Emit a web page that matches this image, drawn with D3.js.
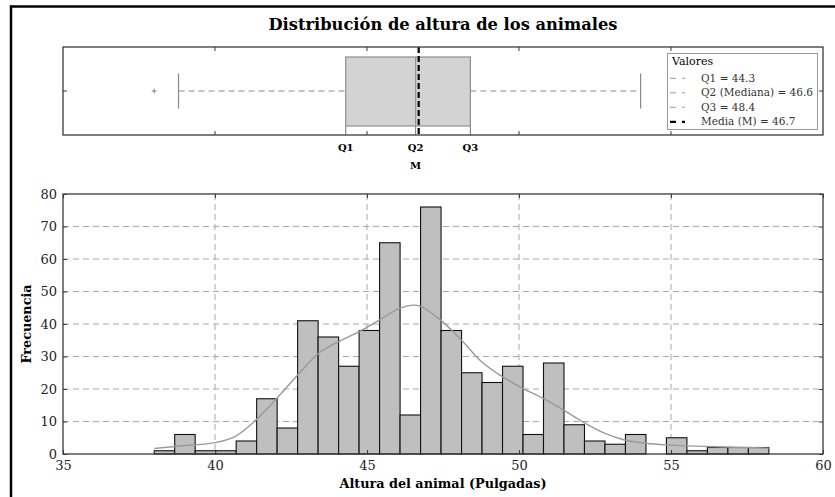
<!DOCTYPE html>
<html>
<head>
<meta charset="utf-8">
<script src="https://cdn.jsdelivr.net/npm/d3@7"></script>
<style>
  html, body { margin: 0; padding: 0; background: #fff; }
  svg { display: block; font-family: "DejaVu Serif", serif; }
</style>
</head>
<body>
<svg id="chart" width="835" height="497"></svg>
<script>
// ---- data ----
const binStart = 38.0;
const binEnd = 58.22;
const counts = [1, 6, 1, 1, 4, 17, 8, 41, 36, 27, 38, 65, 12, 76, 38, 25, 22, 27, 6, 28, 9, 4, 3, 6, 0, 5, 1, 2, 2, 2];

// smoothed density curve, scaled to counts
const kdeX = [38.0, 39.0, 40.0, 40.7, 41.35, 42.04, 42.72, 43.41, 44.07, 44.73, 45.4, 46.07, 46.5, 46.75, 47.42, 48.11, 48.77, 49.45, 50.12, 50.8, 51.47, 52.15, 52.81, 53.47, 54.17, 54.83, 56.17, 58.22];
const kdeY = [1.7, 2.6, 3.5, 5.6, 10.5, 17.2, 24.3, 31.0, 34.6, 37.6, 41.2, 44.8, 45.8, 45.5, 41.2, 35.0, 28.4, 23.8, 20.2, 17.1, 13.5, 9.6, 6.4, 4.3, 3.3, 2.8, 2.3, 1.8];

// box plot summary
const q1 = 44.3, q2 = 46.6, q3 = 48.4, mean = 46.7;
const whiskerLow = 38.8, whiskerHigh = 54.0;
const outliers = [38.0];

const xTicks = [35, 40, 45, 50, 55, 60];
const yTicks = [0, 10, 20, 30, 40, 50, 60, 70, 80];

const legendTitle = "Valores";
const legendItems = [
  { label: "Q1 = " + q1, color: "#9a9a9a", width: 1, dash: "6,6" },
  { label: "Q2 (Mediana) = " + q2, color: "#9a9a9a", width: 1, dash: "6,6" },
  { label: "Q3 = " + q3, color: "#9a9a9a", width: 1, dash: "6,6" },
  { label: "Media (M) = " + mean, color: "#000", width: 2.2, dash: "6,6" }
];

// ---- layout ----
const svg = d3.select("#chart");
const spine = "#3a3a3a";
const box = { left: 63, right: 823, top: 47, bottom: 135 };
const hist = { left: 63, right: 823, top: 194, bottom: 454 };

// figure frame
svg.append("line").attr("x1", 11).attr("x2", 835).attr("y1", 6.5).attr("y2", 6.5)
  .attr("stroke", "#000").attr("stroke-width", 2.5);
svg.append("line").attr("x1", 11).attr("x2", 11).attr("y1", 5.3).attr("y2", 497)
  .attr("stroke", "#000").attr("stroke-width", 2.5);

// title
svg.append("text").attr("x", (hist.left + hist.right) / 2).attr("y", 29.5)
  .attr("text-anchor", "middle").attr("font-size", 16.3).attr("font-weight", "bold")
  .text("Distribución de altura de los animales");

// ---- box plot panel ----
const xb = d3.scaleLinear().domain([35, 60]).range([box.left, box.right]);
const bMid = (box.top + box.bottom) / 2;
const gB = svg.append("g");

gB.append("rect").attr("x", box.left).attr("y", box.top)
  .attr("width", box.right - box.left).attr("height", box.bottom - box.top).attr("fill", "#fff");

// ticks (inward) at top and bottom
[40, 45, 50, 55].forEach(v => {
  gB.append("line").attr("x1", xb(v)).attr("x2", xb(v)).attr("y1", box.top).attr("y2", box.top + 4)
    .attr("stroke", spine).attr("stroke-width", 1);
  gB.append("line").attr("x1", xb(v)).attr("x2", xb(v)).attr("y1", box.bottom).attr("y2", box.bottom - 4)
    .attr("stroke", spine).attr("stroke-width", 1);
});
// y tick at centre, both sides
gB.append("line").attr("x1", box.left).attr("x2", box.left + 4).attr("y1", bMid).attr("y2", bMid).attr("stroke", spine);
gB.append("line").attr("x1", box.right).attr("x2", box.right - 4).attr("y1", bMid).attr("y2", bMid).attr("stroke", spine);

// quartile ticks at the bottom
[q1, q2, q3].forEach(v => {
  gB.append("line").attr("x1", xb(v)).attr("x2", xb(v)).attr("y1", box.bottom).attr("y2", box.bottom - 9)
    .attr("stroke", "#777").attr("stroke-width", 1);
});

const boxTop = box.top + 10, boxBot = box.bottom - 9;
const capHalf = 17.5;

// whiskers
gB.append("line").attr("x1", xb(whiskerLow)).attr("x2", xb(q1)).attr("y1", bMid).attr("y2", bMid)
  .attr("stroke", "#8a8a8a").attr("stroke-width", 1).attr("stroke-dasharray", "6,4");
gB.append("line").attr("x1", xb(q3)).attr("x2", xb(whiskerHigh)).attr("y1", bMid).attr("y2", bMid)
  .attr("stroke", "#8a8a8a").attr("stroke-width", 1).attr("stroke-dasharray", "6,4");
[whiskerLow, whiskerHigh].forEach(v => {
  gB.append("line").attr("x1", xb(v)).attr("x2", xb(v)).attr("y1", bMid - capHalf).attr("y2", bMid + capHalf)
    .attr("stroke", "#8a8a8a").attr("stroke-width", 1.2);
});

// box
gB.append("rect").attr("x", xb(q1)).attr("y", boxTop).attr("width", xb(q3) - xb(q1)).attr("height", boxBot - boxTop)
  .attr("fill", "#d3d3d3").attr("stroke", "#8f8f8f").attr("stroke-width", 1.2);
// median
gB.append("line").attr("x1", xb(q2)).attr("x2", xb(q2)).attr("y1", boxTop).attr("y2", boxBot)
  .attr("stroke", "#8f8f8f").attr("stroke-width", 1.2);

// outliers
outliers.forEach(v => {
  const cx = xb(v);
  gB.append("path").attr("d", `M${cx - 2.5},${bMid}H${cx + 2.5}M${cx},${bMid - 2.5}V${bMid + 2.5}`)
    .attr("stroke", "#777").attr("stroke-width", 0.9);
});

// mean line
gB.append("line").attr("x1", xb(mean)).attr("x2", xb(mean)).attr("y1", box.top).attr("y2", box.bottom)
  .attr("stroke", "#000").attr("stroke-width", 2.2).attr("stroke-dasharray", "6,3");

// frame
gB.append("rect").attr("x", box.left).attr("y", box.top)
  .attr("width", box.right - box.left).attr("height", box.bottom - box.top)
  .attr("fill", "none").attr("stroke", spine).attr("stroke-width", 1.3);

// quartile labels
[["Q1", q1], ["Q2", q2], ["Q3", q3]].forEach(([t, v]) => {
  gB.append("text").attr("x", xb(v)).attr("y", 151).attr("text-anchor", "middle")
    .attr("font-size", 10).attr("font-weight", "bold").text(t);
});
gB.append("text").attr("x", xb(q2)).attr("y", 168.5).attr("text-anchor", "middle")
  .attr("font-size", 10).attr("font-weight", "bold").text("M");

// legend
const lg = gB.append("g");
lg.append("rect").attr("x", 667.5).attr("y", 53.5).attr("width", 150).attr("height", 76)
  .attr("fill", "#fff").attr("stroke", "#9a9a9a").attr("stroke-width", 1);
lg.append("text").attr("x", 672).attr("y", 65).attr("font-size", 11).text(legendTitle);
legendItems.forEach((d, i) => {
  const cy = 78.3 + i * 14.5;
  lg.append("line").attr("x1", 670).attr("x2", 685).attr("y1", cy).attr("y2", cy)
    .attr("stroke", d.color).attr("stroke-width", d.width).attr("stroke-dasharray", d.dash);
  lg.append("text").attr("x", 701).attr("y", cy + 3.6).attr("font-size", 10.5).attr("fill", "#333").text(d.label);
});

// ---- histogram panel ----
const x = d3.scaleLinear().domain([35, 60]).range([hist.left, hist.right]);
const y = d3.scaleLinear().domain([0, 80]).range([hist.bottom, hist.top]);
const gH = svg.append("g");

// grid
gH.append("g").selectAll("line").data(yTicks.filter(v => v > 0 && v < 80)).join("line")
  .attr("x1", hist.left).attr("x2", hist.right).attr("y1", d => y(d)).attr("y2", d => y(d))
  .attr("stroke", "#a8a8a8").attr("stroke-width", 1).attr("stroke-dasharray", "6,4");
gH.append("g").selectAll("line").data(xTicks.filter(v => v > 35 && v < 60)).join("line")
  .attr("x1", d => x(d)).attr("x2", d => x(d)).attr("y1", hist.top).attr("y2", hist.bottom)
  .attr("stroke", "#a8a8a8").attr("stroke-width", 1).attr("stroke-dasharray", "6,4");

// bars
const binW = (binEnd - binStart) / counts.length;
const bins = counts.map((c, i) => ({ x0: binStart + i * binW, x1: binStart + (i + 1) * binW, c }));
gH.append("g").selectAll("rect").data(bins.filter(b => b.c > 0)).join("rect")
  .attr("x", d => x(d.x0)).attr("width", d => x(d.x1) - x(d.x0))
  .attr("y", d => y(d.c)).attr("height", d => y(0) - y(d.c))
  .attr("fill", "#bfbfbf").attr("stroke", "#111").attr("stroke-width", 1.1);

// density curve
const kde = kdeX.map((v, i) => [v, kdeY[i]]);
gH.append("path").datum(kde)
  .attr("d", d3.line().x(d => x(d[0])).y(d => y(d[1])).curve(d3.curveCatmullRom.alpha(0.5)))
  .attr("fill", "none").attr("stroke", "#9a9a9a").attr("stroke-width", 1.4);

// axes (inward ticks on all sides)
const ax = (g, axis) => g.call(axis).call(s => s.select(".domain").remove());
ax(gH.append("g").attr("transform", `translate(0,${hist.bottom})`),
  d3.axisBottom(x).tickValues(xTicks).tickSizeInner(-4).tickSizeOuter(0).tickPadding(7))
  .call(s => s.selectAll("text").attr("font-size", 13).attr("fill", "#222").attr("font-family", "DejaVu Serif"));
ax(gH.append("g").attr("transform", `translate(0,${hist.top})`),
  d3.axisTop(x).tickValues(xTicks).tickSizeInner(-4).tickSizeOuter(0).tickFormat(""));
ax(gH.append("g").attr("transform", `translate(${hist.left},0)`),
  d3.axisLeft(y).tickValues(yTicks).tickSizeInner(-4).tickSizeOuter(0).tickPadding(6))
  .call(s => s.selectAll("text").attr("font-size", 13).attr("fill", "#222").attr("font-family", "DejaVu Serif"));
ax(gH.append("g").attr("transform", `translate(${hist.right},0)`),
  d3.axisRight(y).tickValues(yTicks).tickSizeInner(-4).tickSizeOuter(0).tickFormat(""));
gH.selectAll(".tick line").attr("stroke", spine);

gH.append("rect").attr("x", hist.left).attr("y", hist.top)
  .attr("width", hist.right - hist.left).attr("height", hist.bottom - hist.top)
  .attr("fill", "none").attr("stroke", spine).attr("stroke-width", 1.3);

// axis titles
svg.append("text").attr("x", (hist.left + hist.right) / 2).attr("y", 488)
  .attr("text-anchor", "middle").attr("font-size", 12.8).attr("font-weight", "bold")
  .text("Altura del animal (Pulgadas)");
svg.append("text").attr("transform", `translate(31,${(hist.top + hist.bottom) / 2}) rotate(-90)`)
  .attr("text-anchor", "middle").attr("font-size", 12.8).attr("font-weight", "bold")
  .text("Frecuencia");
</script>
</body>
</html>
